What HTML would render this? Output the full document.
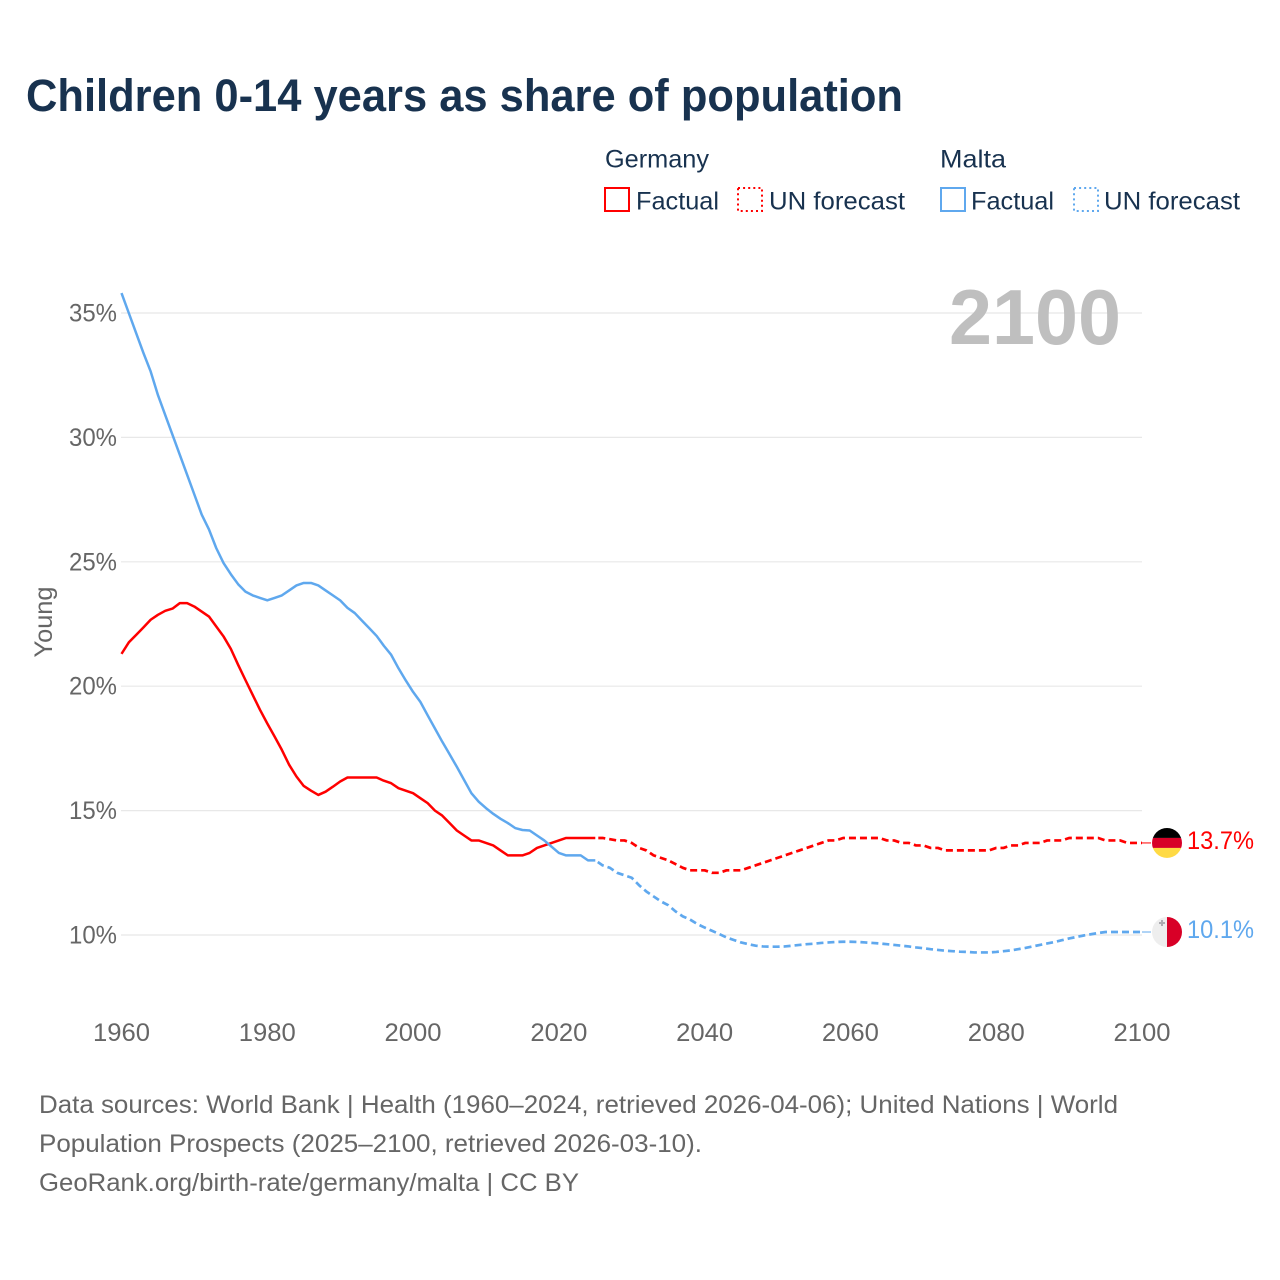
<!DOCTYPE html>
<html lang="en">
<head>
<meta charset="utf-8">
<title>Children 0-14 years as share of population</title>
<style>
html,body{margin:0;padding:0;background:#fff;width:1280px;height:1280px;overflow:hidden}
svg{display:block}
text{font-family:"Liberation Sans",sans-serif}
.ink{fill:#18324f}
.mute{fill:#666}
</style>
</head>
<body>
<svg id="chart" xmlns="http://www.w3.org/2000/svg" width="1280" height="1280" viewBox="0 0 1280 1280">
  <defs>
    <clipPath id="clip-de"><circle cx="0" cy="0" r="15"/></clipPath>
    <clipPath id="clip-mt"><circle cx="0" cy="0" r="15"/></clipPath>
  </defs>
  <rect width="1280" height="1280" fill="#fff"/>
  <text class="ink" x="26" y="111" font-size="45" font-weight="700" textLength="877" lengthAdjust="spacingAndGlyphs">Children 0-14 years as share of population</text>

  <g>
    <text class="ink" x="605" y="167.5" font-size="25" textLength="104" lengthAdjust="spacingAndGlyphs">Germany</text>
    <rect x="605" y="188" width="24" height="23" fill="none" stroke="#ff0000" stroke-width="2"/>
    <text class="ink" x="636" y="209.5" font-size="25" textLength="83" lengthAdjust="spacingAndGlyphs">Factual</text>
    <rect x="738" y="188" width="24" height="23" fill="none" stroke="#ff0000" stroke-width="2" stroke-dasharray="2 3.1"/>
    <text class="ink" x="769" y="209.5" font-size="25" textLength="136" lengthAdjust="spacingAndGlyphs">UN forecast</text>
    <text class="ink" x="940" y="167.5" font-size="25" textLength="66" lengthAdjust="spacingAndGlyphs">Malta</text>
    <rect x="941" y="188" width="24" height="23" fill="none" stroke="#5fa8ee" stroke-width="2"/>
    <text class="ink" x="971" y="209.5" font-size="25" textLength="83" lengthAdjust="spacingAndGlyphs">Factual</text>
    <rect x="1074" y="188" width="24" height="23" fill="none" stroke="#5fa8ee" stroke-width="2" stroke-dasharray="2 3.1"/>
    <text class="ink" x="1104" y="209.5" font-size="25" textLength="136" lengthAdjust="spacingAndGlyphs">UN forecast</text>
  </g>

  <g id="grid"></g>
  <g id="y-axis"></g>
  <g id="x-axis"></g>
  <text x="949" y="344" font-size="78" font-weight="700" fill="#bfbfbf" textLength="172" lengthAdjust="spacingAndGlyphs">2100</text>
  <text class="mute" transform="translate(52,622) rotate(-90)" text-anchor="middle" font-size="25" textLength="71" lengthAdjust="spacingAndGlyphs">Young</text>
  <g id="series"></g>
  <g id="ends"></g>

  <g>
    <text class="mute" x="39" y="1113" font-size="25" textLength="1079" lengthAdjust="spacingAndGlyphs">Data sources: World Bank | Health (1960–2024, retrieved 2026-04-06); United Nations | World</text>
    <text class="mute" x="39" y="1152" font-size="25" textLength="663" lengthAdjust="spacingAndGlyphs">Population Prospects (2025–2100, retrieved 2026-03-10).</text>
    <text class="mute" x="39" y="1191" font-size="25" textLength="540" lengthAdjust="spacingAndGlyphs">GeoRank.org/birth-rate/germany/malta | CC BY</text>
  </g>
</svg>
<script>
const startYear = 1960;
const lastFactualYear = 2025;
const yTickValues = [10, 15, 20, 25, 30, 35];
const xTickYears = [1960, 1980, 2000, 2020, 2040, 2060, 2080, 2100];
const germanyValues = [
  21.3,21.76,22.06,22.36,22.67,22.87,23.03,23.12,23.34,23.34,
  23.2,23.0,22.8,22.4,22.0,21.5,20.86,20.25,19.65,19.05,
  18.5,17.98,17.44,16.84,16.37,15.99,15.8,15.63,15.76,15.96,
  16.17,16.33,16.33,16.33,16.33,16.33,16.2,16.1,15.9,15.8,
  15.7,15.5,15.3,15.0,14.8,14.5,14.2,14.0,13.8,13.8,
  13.7,13.6,13.4,13.2,13.2,13.2,13.3,13.5,13.6,13.7,
  13.8,13.9,13.9,13.9,13.9,13.9,13.9,13.85,13.8,13.8,
  13.7,13.5,13.4,13.2,13.1,13.0,12.85,12.7,12.6,12.6,
  12.6,12.5,12.5,12.6,12.6,12.6,12.7,12.8,12.9,13.0,
  13.1,13.2,13.3,13.4,13.5,13.6,13.7,13.8,13.8,13.9,
  13.9,13.9,13.9,13.9,13.9,13.8,13.8,13.7,13.7,13.6,
  13.6,13.5,13.5,13.4,13.4,13.4,13.4,13.4,13.4,13.4,
  13.5,13.5,13.6,13.6,13.7,13.7,13.7,13.8,13.8,13.8,
  13.9,13.9,13.9,13.9,13.9,13.8,13.8,13.8,13.7,13.7,13.7
];
const maltaValues = [
  35.8,35.0,34.2,33.4,32.65,31.7,30.9,30.1,29.3,28.5,
  27.7,26.9,26.3,25.55,24.95,24.5,24.1,23.8,23.65,23.55,
  23.45,23.55,23.65,23.85,24.05,24.15,24.15,24.05,23.85,23.65,
  23.45,23.15,22.94,22.63,22.33,22.02,21.62,21.26,20.72,20.23,
  19.77,19.37,18.83,18.3,17.77,17.27,16.76,16.23,15.7,15.36,
  15.1,14.87,14.67,14.5,14.3,14.22,14.2,14.0,13.8,13.55,
  13.3,13.2,13.2,13.2,13.0,13.0,12.8,12.7,12.5,12.4,
  12.3,12.0,11.75,11.55,11.35,11.2,10.95,10.75,10.62,10.44,
  10.3,10.17,10.04,9.9,9.8,9.7,9.63,9.57,9.54,9.53,
  9.53,9.54,9.57,9.6,9.63,9.65,9.68,9.7,9.72,9.73,
  9.73,9.72,9.7,9.68,9.66,9.63,9.6,9.57,9.54,9.5,
  9.47,9.43,9.4,9.37,9.35,9.33,9.32,9.3,9.3,9.3,
  9.32,9.35,9.38,9.43,9.48,9.54,9.6,9.66,9.72,9.79,
  9.86,9.92,9.98,10.03,10.08,10.12,10.12,10.12,10.12,10.12,10.12
];

const NS = 'http://www.w3.org/2000/svg';
function xScale(year) { return 121.5 + (year - 1960) * (1142 - 121.5) / 140; }
function yScale(v) { return 935 - (v - 10) * (935 - 313) / 25; }
function mk(tag, attrs) {
  const el = document.createElementNS(NS, tag);
  for (const k in attrs) el.setAttribute(k, attrs[k]);
  return el;
}
function pathFor(values, from, to) {
  const parts = [];
  values.forEach(function (v, i) {
    const yr = startYear + i;
    if (yr < from || yr > to) return;
    parts.push((parts.length ? 'L' : 'M') + xScale(yr).toFixed(2) + ' ' + yScale(v).toFixed(2));
  });
  return parts.join(' ');
}

const gridG = document.getElementById('grid');
const yG = document.getElementById('y-axis');
yTickValues.forEach(function (v) {
  const line = mk('line', {x1: 121, x2: 1142, y1: yScale(v), y2: yScale(v), stroke: '#e8e8e8', 'stroke-width': 1.2});
  
  
  gridG.appendChild(line);
  const t = mk('text', {x: 117, y: yScale(v) + 8.5, 'text-anchor': 'end', 'font-size': 25, class: 'mute', textLength: 48, lengthAdjust: 'spacingAndGlyphs'});
  
  
  t.textContent = v + '%';
  yG.appendChild(t);
});
const xG = document.getElementById('x-axis');
xTickYears.forEach(function (yr) {
  const t = mk('text', {x: xScale(yr), y: 1041, 'text-anchor': 'middle', 'font-size': 25, class: 'mute', textLength: 57, lengthAdjust: 'spacingAndGlyphs'});
  
  
  t.textContent = yr;
  xG.appendChild(t);
});

const seriesG = document.getElementById('series');
const endYear = 2100;
function drawSeries(values, color) {
  const solid = mk('path', {d: pathFor(values, startYear, lastFactualYear), fill: 'none', stroke: color, 'stroke-width': 2.5, 'stroke-linejoin': 'round'});
  
  
  seriesG.appendChild(solid);
  const dashed = mk('path', {d: pathFor(values, lastFactualYear, endYear), fill: 'none', stroke: color, 'stroke-width': 2.7, 'stroke-dasharray': '7 4', 'stroke-dashoffset': 8, 'stroke-linejoin': 'round'});
  
  
  seriesG.appendChild(dashed);
}
drawSeries(germanyValues, '#ff0000');
drawSeries(maltaValues, '#5fa8ee');

const endsG = document.getElementById('ends');
function drawEnd(values, color, flag) {
  const last = values[values.length - 1];
  const y = yScale(last);
  const leader = mk('line', {x1: xScale(endYear), x2: xScale(endYear) + 9, y1: y, y2: y, stroke: color, 'stroke-width': 1});
  
  
  endsG.appendChild(leader);
  const g = mk('g', {transform: 'translate(' + (xScale(endYear) + 25) + ',' + y + ')'});
  
  
  flag(g);
  endsG.appendChild(g);
  const t = mk('text', {x: xScale(endYear) + 45, y: y + 6, 'font-size': 25, fill: color, textLength: 67, lengthAdjust: 'spacingAndGlyphs'});
  
  
  t.textContent = last.toFixed(1) + '%';
  endsG.appendChild(t);
}
drawEnd(germanyValues, '#ff0000', function (g) {
  const c = mk('g', {'clip-path': 'url(#clip-de)'});
  c.appendChild(mk('rect', {x: -15, y: -15, width: 30, height: 10, fill: '#000'}));
  c.appendChild(mk('rect', {x: -15, y: -5, width: 30, height: 10, fill: '#d80027'}));
  c.appendChild(mk('rect', {x: -15, y: 5, width: 30, height: 10, fill: '#ffda44'}));
  g.appendChild(c);
});
drawEnd(maltaValues, '#5fa8ee', function (g) {
  const c = mk('g', {'clip-path': 'url(#clip-mt)'});
  c.appendChild(mk('rect', {x: -15, y: -15, width: 15, height: 30, fill: '#eeeeee'}));
  c.appendChild(mk('rect', {x: 0, y: -15, width: 15, height: 30, fill: '#d80027'}));
  c.appendChild(mk('rect', {x: -8, y: -10, width: 6, height: 2, fill: '#acabb1'}));
  c.appendChild(mk('rect', {x: -6, y: -12, width: 2, height: 6, fill: '#acabb1'}));
  g.appendChild(c);
});
</script>
</body>
</html>
